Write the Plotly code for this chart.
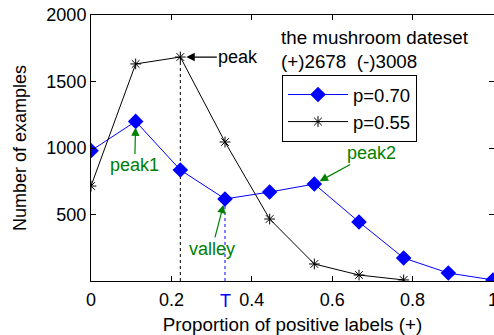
import plotly.graph_objects as go

# Data
x_bins = [0, 1/9, 2/9, 3/9, 4/9, 5/9, 6/9, 7/9, 8/9, 1.0]
p070 = [980, 1200, 835, 617, 669, 729, 444, 173, 60, 8]
p055 = [714, 1632, 1684, 1045, 466, 128, 45, 8]
x_ticks = [0, 0.2, 0.4, 0.6, 0.8, 1.0]
x_ticktext = ["0", "0.2", "0.4", "0.6", "0.8", "1"]
y_ticks = [500, 1000, 1500, 2000]
y_ticktext = ["500", "1000", "1500", "2000"]

FONT = "Liberation Sans"
GREEN = "#008000"

fig = go.Figure()

# dotted guide lines
pk = 2  # index of black peak
vl = 3  # index of valley
fig.add_trace(go.Scatter(x=[x_bins[pk], x_bins[pk]], y=[0, p055[pk]], mode="lines",
                         line=dict(color="black", width=1, dash="dot"), showlegend=False, hoverinfo="skip"))
fig.add_trace(go.Scatter(x=[x_bins[vl], x_bins[vl]], y=[0, p070[vl]], mode="lines",
                         line=dict(color="blue", width=1, dash="dot"), showlegend=False, hoverinfo="skip"))

fig.add_trace(go.Scatter(x=x_bins, y=p070, mode="lines+markers", name="p=0.70",
                         line=dict(color="blue", width=1),
                         marker=dict(symbol="diamond", size=12, color="blue")))
fig.add_trace(go.Scatter(x=x_bins[:len(p055)], y=p055, mode="lines+markers", name="p=0.55",
                         line=dict(color="black", width=1),
                         marker=dict(symbol="asterisk-open", size=9, color="black",
                                     line=dict(color="black", width=1))))

ann = [
    dict(x=x_bins[pk], y=p055[pk], text="peak", ax=58, ay=0, font=dict(color="black", size=18),
         arrowcolor="black"),
    dict(x=x_bins[1], y=p070[1], text="peak1", ax=-1, ay=44, font=dict(color=GREEN, size=18),
         arrowcolor=GREEN),
    dict(x=x_bins[vl], y=p070[vl], text="valley", ax=-13, ay=50, font=dict(color=GREEN, size=18),
         arrowcolor=GREEN),
    dict(x=x_bins[5], y=p070[5], text="peak2", ax=57, ay=-31, font=dict(color=GREEN, size=18),
         arrowcolor=GREEN),
]
for a in ann:
    fig.add_annotation(xref="x", yref="y", axref="pixel", ayref="pixel", showarrow=True,
                       arrowhead=2, arrowsize=1.4, arrowwidth=1.2, standoff=6, **a)

fig.add_annotation(xref="x", yref="paper", x=x_bins[vl], y=0, yanchor="top", yshift=-8,
                   text="T", showarrow=False, font=dict(color="blue", size=18, family=FONT))
fig.add_annotation(xref="paper", yref="paper", x=(279 - 91) / 403, y=(281 - 25) / 266,
                   xanchor="left", yanchor="top", align="left",
                   text="the mushroom dateset<br>(+)2678  (-)3008", showarrow=False,
                   font=dict(color="black", size=18.8, family=FONT))

fig.update_layout(
    width=494, height=335,
    margin=dict(l=91, r=0, t=15, b=54, pad=0),
    paper_bgcolor="white", plot_bgcolor="white",
    font=dict(family=FONT, size=18, color="black"),
    legend=dict(x=(282 - 91) / 403, y=(281 - 75) / 266, xanchor="left", yanchor="top",
                bordercolor="black", borderwidth=1, bgcolor="white",
                font=dict(size=18.5), tracegroupgap=0, itemwidth=60),
    xaxis=dict(range=[0, 1.0025], tickvals=x_ticks, ticktext=x_ticktext, automargin=False,
               ticks="inside", ticklen=5, tickcolor="black", showline=True, linecolor="black",
               linewidth=1, mirror="ticks", showgrid=False, zeroline=False,
               ticklabeloverflow="allow", ticklabelstandoff=2,
               tickfont=dict(size=18),
               title=dict(text="Proportion of positive labels (+)", font=dict(size=18.8))),
    yaxis=dict(range=[0, 2000], tickvals=y_ticks, ticktext=y_ticktext, automargin=False,
               ticks="inside", ticklen=5, tickcolor="black", showline=True, linecolor="black",
               linewidth=1, mirror="ticks", showgrid=False, zeroline=False,
               tickfont=dict(size=18),
               title=dict(text="Number of examples", font=dict(size=18))),
)

fig.write_html("out.html", config={"displayModeBar": False},
               post_script="document.body.style.margin='0';document.body.style.overflow='hidden';")
